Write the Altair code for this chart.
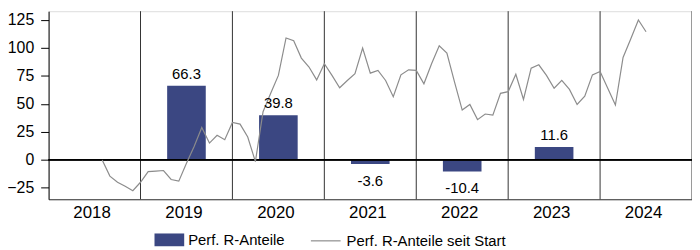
import altair as alt
import pandas as pd

# ---- data ----
axis_years = [2018, 2019, 2020, 2021, 2022, 2023, 2024]
bar_years = [2019, 2020, 2021, 2022, 2023]
bar_values = [66.3, 39.8, -3.6, -10.4, 11.6]

series_bar = "Perf. R-Anteile"
series_line = "Perf. R-Anteile seit Start"

# monthly values of the cumulative line, first point = 7 months after Jan 2018
line_first_month = 7
line_values = [
    0, -14.5, -20, -23.5, -27.5,
    -20, -10.5, -10, -9.5, -17.5, -19, -3, 12, 29, 15, 22, 18,
    33.5, 32, 20.5, -1.5, 43, 59.5, 75.5, 109, 106.5, 91, 83, 71.5,
    86, 75.5, 64.5, 71, 77, 100, 77.5, 80, 71, 56.5, 76, 80.5,
    80, 68, 86, 102, 95.5, 69.5, 44.5, 49.5, 36, 41, 40, 59.5,
    61, 76.5, 54, 82, 85, 75.5, 64, 71, 63, 49.5, 57, 76,
    79, 64, 49, 91.5, 108, 125, 114.5,
]
y_ticks = [-25, 0, 25, 50, 75, 100, 125]

# ---- tables ----
bars = pd.DataFrame({
    "year": bar_years,
    "value": bar_values,
    "label": [f"{v:.1f}" for v in bar_values],
    "series": [series_bar] * len(bar_years),
})
line = pd.DataFrame({
    "t": [axis_years[0] + (line_first_month + i) / 12 for i in range(len(line_values))],
    "v": line_values,
    "series": [series_line] * len(line_values),
})
dividers = pd.DataFrame({"x": axis_years[1:] + [axis_years[-1] + 1]})

FONT = "Liberation Sans"
BAR_COLOR = "#3b4782"
LINE_COLOR = "#8c8c8c"

xscale = alt.Scale(domain=[axis_years[0], axis_years[-1] + 1], nice=False, zero=False)
yscale = alt.Scale(domain=[-35.2, 132.9], nice=False, zero=False)

xaxis = alt.Axis(
    values=[y + 0.5 for y in axis_years],
    labelExpr="'' + floor(datum.value)",
    ticks=False, tickSize=0, grid=False, title=None,
    labelFontSize=17, labelPadding=5, labelOffset=-3, labelColor="black",
    domainColor="#333333", labelFont=FONT, labelOverlap=False,
)
yaxis = alt.Axis(
    values=y_ticks,
    grid=False, title=None, tickSize=8, labelPadding=7,
    labelFontSize=16, labelColor="black", domainColor="black",
    tickColor="black", labelFont=FONT, labelOverlap=False,
)

div_layer = alt.Chart(dividers).mark_rule(color="#333333", strokeWidth=1).encode(
    x=alt.X("x:Q", scale=xscale, axis=xaxis)
)

bar_layer = alt.Chart(bars).transform_calculate(
    x0="datum.year + 0.29", x1="datum.year + 0.71"
).mark_rect().encode(
    x=alt.X("x0:Q", scale=xscale, axis=xaxis),
    x2="x1:Q",
    y=alt.Y("value:Q", scale=yscale, axis=yaxis),
    y2=alt.datum(0),
    color=alt.Color(
        "series:N",
        scale=alt.Scale(domain=[series_bar], range=[BAR_COLOR]),
        legend=alt.Legend(
            orient="none", legendX=107, legendY=216, title=None,
            symbolType="M-1,-0.43H1V0.43H-1Z", symbolSize=900,
            symbolStrokeWidth=0, labelFontSize=15, labelColor="black",
            labelFont=FONT, labelOffset=4, labelLimit=400,
        ),
    ),
)

zero_layer = alt.Chart(bars).mark_rule(color="black", strokeWidth=1).encode(
    y=alt.YDatum(0, scale=yscale, axis=yaxis)
)

line_layer = alt.Chart(line).mark_line(strokeWidth=1.2).encode(
    x=alt.X("t:Q", scale=xscale, axis=xaxis),
    y=alt.Y("v:Q", scale=yscale, axis=yaxis),
    stroke=alt.Stroke(
        "series:N",
        scale=alt.Scale(domain=[series_line], range=[LINE_COLOR]),
        legend=alt.Legend(
            orient="none", legendX=264, legendY=216, title=None,
            symbolType="stroke", symbolSize=900, symbolStrokeWidth=1.2,
            labelFontSize=15, labelColor="black", labelFont=FONT, labelOffset=5,
            labelLimit=400,
        ),
    ),
)

pos_labels = alt.Chart(bars).transform_filter("datum.value > 0").transform_calculate(
    xc="datum.year + 0.5"
).mark_text(fontSize=15, font=FONT, color="black", baseline="alphabetic", dy=-7).encode(
    x=alt.X("xc:Q", scale=xscale, axis=xaxis),
    y=alt.Y("value:Q", scale=yscale, axis=yaxis),
    text="label:N",
)

neg_labels = alt.Chart(bars).transform_filter("datum.value < 0").transform_calculate(
    xc="datum.year + 0.5"
).mark_text(fontSize=15, font=FONT, color="black", baseline="alphabetic", dy=22).encode(
    x=alt.X("xc:Q", scale=xscale, axis=xaxis),
    y=alt.Y("value:Q", scale=yscale, axis=yaxis),
    text="label:N",
)

chart = alt.layer(
    div_layer, bar_layer, zero_layer, line_layer, pos_labels, neg_labels
).properties(
    width=650, height=190,
    padding={"left": 41, "top": 2, "right": 0, "bottom": 48},
    autosize=alt.AutoSizeParams(type="none"),
).configure_view(strokeOpacity=0).configure_axis(labelOverlap=False).configure(font=FONT)

chart.save("out.html", embed_options={"renderer": "svg", "actions": False})
